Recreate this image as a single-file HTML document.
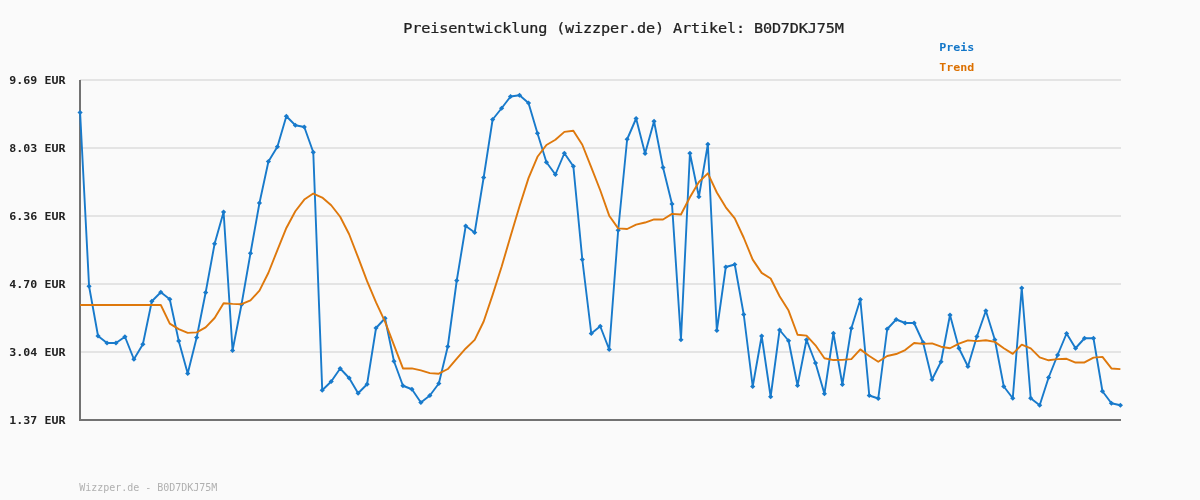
<!DOCTYPE html>
<html lang="de"><head><meta charset="utf-8"><title>Preisentwicklung (wizzper.de) Artikel: B0D7DKJ75M</title>
<style>
html,body{margin:0;padding:0;background:#fafafa;}
body{width:1200px;height:500px;overflow:hidden;}
svg{display:block;}
.t{font-family:"DejaVu Sans Mono","Liberation Mono",monospace;font-size:13.8px;fill:#222;stroke:#222;stroke-width:0.25px;}
.yl text{font-family:"DejaVu Sans Mono","Liberation Mono",monospace;font-weight:bold;font-size:11px;fill:#222;}
.lg{font-family:"DejaVu Sans Mono","Liberation Mono",monospace;font-weight:bold;font-size:11px;}
.ft{font-family:"DejaVu Sans Mono","Liberation Mono",monospace;font-size:10px;fill:#b0b0b0;}
</style></head><body>
<svg width="1200" height="500" viewBox="0 0 1200 500">
<rect width="1200" height="500" fill="#fafafa"/>
<g fill="#e4e4e4"><rect x="80" y="79" width="1041" height="2"/><rect x="80" y="147" width="1041" height="2"/><rect x="80" y="215" width="1041" height="2"/><rect x="80" y="283" width="1041" height="2"/><rect x="80" y="351" width="1041" height="2"/></g>
<rect x="79" y="80" width="2" height="341" fill="#727272"/>
<rect x="79" y="419" width="1042" height="2" fill="#727272"/>
<text class="t" transform="translate(403.3 32.8) scale(1.1 1)" textLength="400.6" lengthAdjust="spacing">Preisentwicklung (wizzper.de) Artikel: B0D7DKJ75M</text>
<g class="yl"><text transform="translate(9.3 84.4) scale(1.06 1)">9.69 EUR</text><text transform="translate(9.3 152.4) scale(1.06 1)">8.03 EUR</text><text transform="translate(9.3 220.4) scale(1.06 1)">6.36 EUR</text><text transform="translate(9.3 288.4) scale(1.06 1)">4.70 EUR</text><text transform="translate(9.3 356.4) scale(1.06 1)">3.04 EUR</text><text transform="translate(9.3 424.4) scale(1.06 1)">1.37 EUR</text></g>
<text class="lg" transform="translate(939.3 51) scale(1.06 1)" fill="#1276c8">Preis</text>
<text class="lg" transform="translate(939.3 71) scale(1.06 1)" fill="#dc7000">Trend</text>
<polyline fill="none" stroke="#187acb" stroke-width="1.9" stroke-linejoin="round" points="80.10,112.50 89.07,286.25 98.04,336.00 107.00,343.00 115.97,343.00 124.94,336.75 133.91,359.25 142.88,344.25 151.84,301.25 160.81,292.25 169.78,299.25 178.75,341.00 187.72,373.50 196.68,337.50 205.65,292.50 214.62,243.75 223.59,212.00 232.56,350.50 241.52,304.50 250.49,253.25 259.46,203.00 268.43,161.50 277.40,146.75 286.36,116.25 295.33,125.25 304.30,127.00 313.27,152.25 322.24,390.25 331.20,381.50 340.17,368.50 349.14,378.00 358.11,393.25 367.08,384.25 376.04,328.00 385.01,318.25 393.98,361.25 402.95,385.75 411.92,389.25 420.88,402.50 429.85,395.50 438.82,383.50 447.79,346.50 456.76,280.50 465.72,226.00 474.69,232.50 483.66,177.50 492.63,119.50 501.60,108.25 510.56,96.50 519.53,95.25 528.50,103.00 537.47,133.25 546.44,162.25 555.40,174.50 564.37,153.25 573.34,166.25 582.31,259.50 591.28,333.50 600.24,326.25 609.21,349.50 618.18,230.25 627.15,139.25 636.12,118.50 645.08,153.50 654.05,121.25 663.02,167.50 671.99,204.00 680.96,339.75 689.92,153.25 698.89,196.75 707.86,144.25 716.83,330.50 725.80,267.00 734.76,264.50 743.73,314.50 752.70,386.50 761.67,336.00 770.64,396.75 779.60,330.00 788.57,340.75 797.54,385.50 806.51,339.75 815.48,363.00 824.44,393.75 833.41,333.25 842.38,384.50 851.35,328.25 860.32,299.50 869.28,395.50 878.25,398.50 887.22,329.00 896.19,319.50 905.16,323.00 914.12,323.00 923.09,342.50 932.06,379.50 941.03,361.75 950.00,315.00 958.96,348.25 967.93,366.50 976.90,336.50 985.87,310.75 994.84,339.75 1003.80,386.50 1012.77,398.25 1021.74,288.00 1030.71,398.25 1039.68,405.25 1048.64,377.50 1057.61,355.00 1066.58,333.50 1075.55,348.25 1084.52,338.25 1093.48,338.25 1102.45,391.25 1111.42,403.25 1120.39,405.25"/>
<g fill="#187acb"><path d="M80.10 109.90l2.6 2.6l-2.6 2.6l-2.6 -2.6z"/><path d="M89.07 283.65l2.6 2.6l-2.6 2.6l-2.6 -2.6z"/><path d="M98.04 333.40l2.6 2.6l-2.6 2.6l-2.6 -2.6z"/><path d="M107.00 340.40l2.6 2.6l-2.6 2.6l-2.6 -2.6z"/><path d="M115.97 340.40l2.6 2.6l-2.6 2.6l-2.6 -2.6z"/><path d="M124.94 334.15l2.6 2.6l-2.6 2.6l-2.6 -2.6z"/><path d="M133.91 356.65l2.6 2.6l-2.6 2.6l-2.6 -2.6z"/><path d="M142.88 341.65l2.6 2.6l-2.6 2.6l-2.6 -2.6z"/><path d="M151.84 298.65l2.6 2.6l-2.6 2.6l-2.6 -2.6z"/><path d="M160.81 289.65l2.6 2.6l-2.6 2.6l-2.6 -2.6z"/><path d="M169.78 296.65l2.6 2.6l-2.6 2.6l-2.6 -2.6z"/><path d="M178.75 338.40l2.6 2.6l-2.6 2.6l-2.6 -2.6z"/><path d="M187.72 370.90l2.6 2.6l-2.6 2.6l-2.6 -2.6z"/><path d="M196.68 334.90l2.6 2.6l-2.6 2.6l-2.6 -2.6z"/><path d="M205.65 289.90l2.6 2.6l-2.6 2.6l-2.6 -2.6z"/><path d="M214.62 241.15l2.6 2.6l-2.6 2.6l-2.6 -2.6z"/><path d="M223.59 209.40l2.6 2.6l-2.6 2.6l-2.6 -2.6z"/><path d="M232.56 347.90l2.6 2.6l-2.6 2.6l-2.6 -2.6z"/><path d="M241.52 301.90l2.6 2.6l-2.6 2.6l-2.6 -2.6z"/><path d="M250.49 250.65l2.6 2.6l-2.6 2.6l-2.6 -2.6z"/><path d="M259.46 200.40l2.6 2.6l-2.6 2.6l-2.6 -2.6z"/><path d="M268.43 158.90l2.6 2.6l-2.6 2.6l-2.6 -2.6z"/><path d="M277.40 144.15l2.6 2.6l-2.6 2.6l-2.6 -2.6z"/><path d="M286.36 113.65l2.6 2.6l-2.6 2.6l-2.6 -2.6z"/><path d="M295.33 122.65l2.6 2.6l-2.6 2.6l-2.6 -2.6z"/><path d="M304.30 124.40l2.6 2.6l-2.6 2.6l-2.6 -2.6z"/><path d="M313.27 149.65l2.6 2.6l-2.6 2.6l-2.6 -2.6z"/><path d="M322.24 387.65l2.6 2.6l-2.6 2.6l-2.6 -2.6z"/><path d="M331.20 378.90l2.6 2.6l-2.6 2.6l-2.6 -2.6z"/><path d="M340.17 365.90l2.6 2.6l-2.6 2.6l-2.6 -2.6z"/><path d="M349.14 375.40l2.6 2.6l-2.6 2.6l-2.6 -2.6z"/><path d="M358.11 390.65l2.6 2.6l-2.6 2.6l-2.6 -2.6z"/><path d="M367.08 381.65l2.6 2.6l-2.6 2.6l-2.6 -2.6z"/><path d="M376.04 325.40l2.6 2.6l-2.6 2.6l-2.6 -2.6z"/><path d="M385.01 315.65l2.6 2.6l-2.6 2.6l-2.6 -2.6z"/><path d="M393.98 358.65l2.6 2.6l-2.6 2.6l-2.6 -2.6z"/><path d="M402.95 383.15l2.6 2.6l-2.6 2.6l-2.6 -2.6z"/><path d="M411.92 386.65l2.6 2.6l-2.6 2.6l-2.6 -2.6z"/><path d="M420.88 399.90l2.6 2.6l-2.6 2.6l-2.6 -2.6z"/><path d="M429.85 392.90l2.6 2.6l-2.6 2.6l-2.6 -2.6z"/><path d="M438.82 380.90l2.6 2.6l-2.6 2.6l-2.6 -2.6z"/><path d="M447.79 343.90l2.6 2.6l-2.6 2.6l-2.6 -2.6z"/><path d="M456.76 277.90l2.6 2.6l-2.6 2.6l-2.6 -2.6z"/><path d="M465.72 223.40l2.6 2.6l-2.6 2.6l-2.6 -2.6z"/><path d="M474.69 229.90l2.6 2.6l-2.6 2.6l-2.6 -2.6z"/><path d="M483.66 174.90l2.6 2.6l-2.6 2.6l-2.6 -2.6z"/><path d="M492.63 116.90l2.6 2.6l-2.6 2.6l-2.6 -2.6z"/><path d="M501.60 105.65l2.6 2.6l-2.6 2.6l-2.6 -2.6z"/><path d="M510.56 93.90l2.6 2.6l-2.6 2.6l-2.6 -2.6z"/><path d="M519.53 92.65l2.6 2.6l-2.6 2.6l-2.6 -2.6z"/><path d="M528.50 100.40l2.6 2.6l-2.6 2.6l-2.6 -2.6z"/><path d="M537.47 130.65l2.6 2.6l-2.6 2.6l-2.6 -2.6z"/><path d="M546.44 159.65l2.6 2.6l-2.6 2.6l-2.6 -2.6z"/><path d="M555.40 171.90l2.6 2.6l-2.6 2.6l-2.6 -2.6z"/><path d="M564.37 150.65l2.6 2.6l-2.6 2.6l-2.6 -2.6z"/><path d="M573.34 163.65l2.6 2.6l-2.6 2.6l-2.6 -2.6z"/><path d="M582.31 256.90l2.6 2.6l-2.6 2.6l-2.6 -2.6z"/><path d="M591.28 330.90l2.6 2.6l-2.6 2.6l-2.6 -2.6z"/><path d="M600.24 323.65l2.6 2.6l-2.6 2.6l-2.6 -2.6z"/><path d="M609.21 346.90l2.6 2.6l-2.6 2.6l-2.6 -2.6z"/><path d="M618.18 227.65l2.6 2.6l-2.6 2.6l-2.6 -2.6z"/><path d="M627.15 136.65l2.6 2.6l-2.6 2.6l-2.6 -2.6z"/><path d="M636.12 115.90l2.6 2.6l-2.6 2.6l-2.6 -2.6z"/><path d="M645.08 150.90l2.6 2.6l-2.6 2.6l-2.6 -2.6z"/><path d="M654.05 118.65l2.6 2.6l-2.6 2.6l-2.6 -2.6z"/><path d="M663.02 164.90l2.6 2.6l-2.6 2.6l-2.6 -2.6z"/><path d="M671.99 201.40l2.6 2.6l-2.6 2.6l-2.6 -2.6z"/><path d="M680.96 337.15l2.6 2.6l-2.6 2.6l-2.6 -2.6z"/><path d="M689.92 150.65l2.6 2.6l-2.6 2.6l-2.6 -2.6z"/><path d="M698.89 194.15l2.6 2.6l-2.6 2.6l-2.6 -2.6z"/><path d="M707.86 141.65l2.6 2.6l-2.6 2.6l-2.6 -2.6z"/><path d="M716.83 327.90l2.6 2.6l-2.6 2.6l-2.6 -2.6z"/><path d="M725.80 264.40l2.6 2.6l-2.6 2.6l-2.6 -2.6z"/><path d="M734.76 261.90l2.6 2.6l-2.6 2.6l-2.6 -2.6z"/><path d="M743.73 311.90l2.6 2.6l-2.6 2.6l-2.6 -2.6z"/><path d="M752.70 383.90l2.6 2.6l-2.6 2.6l-2.6 -2.6z"/><path d="M761.67 333.40l2.6 2.6l-2.6 2.6l-2.6 -2.6z"/><path d="M770.64 394.15l2.6 2.6l-2.6 2.6l-2.6 -2.6z"/><path d="M779.60 327.40l2.6 2.6l-2.6 2.6l-2.6 -2.6z"/><path d="M788.57 338.15l2.6 2.6l-2.6 2.6l-2.6 -2.6z"/><path d="M797.54 382.90l2.6 2.6l-2.6 2.6l-2.6 -2.6z"/><path d="M806.51 337.15l2.6 2.6l-2.6 2.6l-2.6 -2.6z"/><path d="M815.48 360.40l2.6 2.6l-2.6 2.6l-2.6 -2.6z"/><path d="M824.44 391.15l2.6 2.6l-2.6 2.6l-2.6 -2.6z"/><path d="M833.41 330.65l2.6 2.6l-2.6 2.6l-2.6 -2.6z"/><path d="M842.38 381.90l2.6 2.6l-2.6 2.6l-2.6 -2.6z"/><path d="M851.35 325.65l2.6 2.6l-2.6 2.6l-2.6 -2.6z"/><path d="M860.32 296.90l2.6 2.6l-2.6 2.6l-2.6 -2.6z"/><path d="M869.28 392.90l2.6 2.6l-2.6 2.6l-2.6 -2.6z"/><path d="M878.25 395.90l2.6 2.6l-2.6 2.6l-2.6 -2.6z"/><path d="M887.22 326.40l2.6 2.6l-2.6 2.6l-2.6 -2.6z"/><path d="M896.19 316.90l2.6 2.6l-2.6 2.6l-2.6 -2.6z"/><path d="M905.16 320.40l2.6 2.6l-2.6 2.6l-2.6 -2.6z"/><path d="M914.12 320.40l2.6 2.6l-2.6 2.6l-2.6 -2.6z"/><path d="M923.09 339.90l2.6 2.6l-2.6 2.6l-2.6 -2.6z"/><path d="M932.06 376.90l2.6 2.6l-2.6 2.6l-2.6 -2.6z"/><path d="M941.03 359.15l2.6 2.6l-2.6 2.6l-2.6 -2.6z"/><path d="M950.00 312.40l2.6 2.6l-2.6 2.6l-2.6 -2.6z"/><path d="M958.96 345.65l2.6 2.6l-2.6 2.6l-2.6 -2.6z"/><path d="M967.93 363.90l2.6 2.6l-2.6 2.6l-2.6 -2.6z"/><path d="M976.90 333.90l2.6 2.6l-2.6 2.6l-2.6 -2.6z"/><path d="M985.87 308.15l2.6 2.6l-2.6 2.6l-2.6 -2.6z"/><path d="M994.84 337.15l2.6 2.6l-2.6 2.6l-2.6 -2.6z"/><path d="M1003.80 383.90l2.6 2.6l-2.6 2.6l-2.6 -2.6z"/><path d="M1012.77 395.65l2.6 2.6l-2.6 2.6l-2.6 -2.6z"/><path d="M1021.74 285.40l2.6 2.6l-2.6 2.6l-2.6 -2.6z"/><path d="M1030.71 395.65l2.6 2.6l-2.6 2.6l-2.6 -2.6z"/><path d="M1039.68 402.65l2.6 2.6l-2.6 2.6l-2.6 -2.6z"/><path d="M1048.64 374.90l2.6 2.6l-2.6 2.6l-2.6 -2.6z"/><path d="M1057.61 352.40l2.6 2.6l-2.6 2.6l-2.6 -2.6z"/><path d="M1066.58 330.90l2.6 2.6l-2.6 2.6l-2.6 -2.6z"/><path d="M1075.55 345.65l2.6 2.6l-2.6 2.6l-2.6 -2.6z"/><path d="M1084.52 335.65l2.6 2.6l-2.6 2.6l-2.6 -2.6z"/><path d="M1093.48 335.65l2.6 2.6l-2.6 2.6l-2.6 -2.6z"/><path d="M1102.45 388.65l2.6 2.6l-2.6 2.6l-2.6 -2.6z"/><path d="M1111.42 400.65l2.6 2.6l-2.6 2.6l-2.6 -2.6z"/><path d="M1120.39 402.65l2.6 2.6l-2.6 2.6l-2.6 -2.6z"/></g>
<polyline fill="none" stroke="#de780c" stroke-width="1.9" stroke-linejoin="round" points="80.10,305.00 89.07,305.00 98.04,305.00 107.00,305.00 115.97,305.00 124.94,305.00 133.91,305.00 142.88,305.00 151.84,305.00 160.81,305.00 169.78,323.68 178.75,329.15 187.72,332.90 196.68,332.35 205.65,327.30 214.62,318.00 223.59,303.28 232.56,303.90 241.52,304.23 250.49,300.32 259.46,290.70 268.43,272.75 277.40,250.08 286.36,227.95 295.33,211.23 304.30,199.55 313.27,193.58 322.24,197.55 331.20,205.25 340.17,216.78 349.14,234.28 358.11,257.45 367.08,281.20 376.04,302.38 385.01,321.68 393.98,345.10 402.95,368.45 411.92,368.35 420.88,370.45 429.85,373.15 438.82,373.70 447.79,369.03 456.76,358.65 465.72,348.45 474.69,339.88 483.66,321.50 492.63,294.88 501.60,266.78 510.56,236.18 519.53,206.15 528.50,178.10 537.47,156.78 546.44,144.95 555.40,139.80 564.37,131.88 573.34,130.75 582.31,144.75 591.28,167.28 600.24,190.25 609.21,215.68 618.18,228.40 627.15,229.00 636.12,224.62 645.08,222.53 654.05,219.33 663.02,219.45 671.99,213.90 680.96,214.53 689.92,197.23 698.89,181.95 707.86,173.35 716.83,192.48 725.80,207.33 734.76,218.43 743.73,237.75 752.70,259.65 761.67,272.85 770.64,278.55 779.60,296.23 788.57,310.62 797.54,334.75 806.51,335.68 815.48,345.28 824.44,358.20 833.41,360.07 842.38,359.88 851.35,359.10 860.32,349.38 869.28,355.93 878.25,361.70 887.22,356.05 896.19,354.03 905.16,350.03 914.12,342.95 923.09,343.88 932.06,343.38 941.03,346.73 950.00,348.28 958.96,343.55 967.93,340.35 976.90,341.10 985.87,340.23 994.84,341.90 1003.80,348.25 1012.77,353.82 1021.74,344.68 1030.71,348.32 1039.68,357.35 1048.64,360.28 1057.61,359.12 1066.58,358.82 1075.55,362.57 1084.52,362.43 1093.48,357.60 1102.45,356.90 1111.42,368.43 1120.39,369.12"/>
<text class="ft" x="79.3" y="491" textLength="138" lengthAdjust="spacing">Wizzper.de - B0D7DKJ75M</text>
</svg>
</body></html>
